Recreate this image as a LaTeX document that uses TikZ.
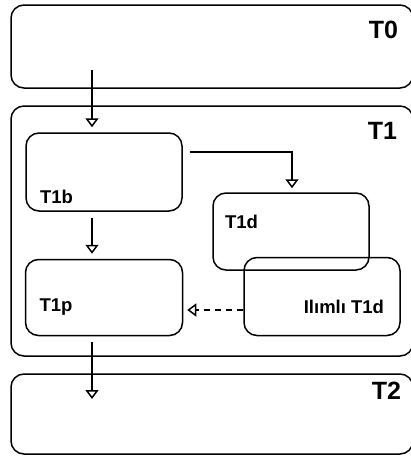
\documentclass[tikz,border=0pt]{standalone}
\usepackage{fontspec}
\setmainfont{Liberation Sans}
\usetikzlibrary{arrows.meta,positioning}

\begin{document}
\begin{tikzpicture}[x=1pt, y=-1pt, line width=1.5pt,
    hd/.style={-{Triangle[open,length=9pt,width=13pt]}},
    box/.style={draw, rounded corners=13pt, inner sep=0pt},
    big/.style={inner sep=0pt, font=\bfseries\fontsize{25}{25}\selectfont},
    small/.style={inner sep=0pt, font=\bfseries\fontsize{18.5}{18.5}\selectfont}]
    \useasboundingbox (0,0) rectangle (411,456);

    % Boxes {t0, t1, t2, t1b, t1d, t1p, ilimli}
    \node [box, minimum width=402pt, minimum height=83pt]  (t0)  at (212,46.5) {};
    \node [box, minimum width=402pt, minimum height=250pt] (t1)  at (212,231)  {};
    \node [box, minimum width=402pt, minimum height=80pt]  (t2)  at (212,414)  {};
    \node [box, minimum width=156pt, minimum height=78pt]  (t1b) at (104,172)  {};
    \node [box, minimum width=156pt, minimum height=77pt]  (t1d) at (291,231.5) {};
    \node [box, minimum width=157pt, minimum height=76pt]  (t1p) [below=47pt of t1b] {};
    \node [box, minimum width=156pt, minimum height=78pt]  (ilimli) [right=60pt of t1p, yshift=1pt] {};

    % Labels
    \node [big, anchor=base east]   (lt0)  at ([xshift=-15pt, yshift=-34pt]t0.north east) {T0};
    \node [big, anchor=base east]   (lt1)  at ([xshift=-16pt, yshift=-34pt]t1.north east) {T1};
    \node [big, anchor=base east]   (lt2)  at ([xshift=-12pt, yshift=-26pt]t2.north east) {T2};
    \node [small, anchor=base west] (lt1b) at ([xshift=14pt, yshift=8pt]t1b.south west) {T1b};
    \node [small, anchor=base west] (lt1d) at ([xshift=12pt, yshift=-36pt]t1d.north west) {T1d};
    \node [small, anchor=base west] (lt1p) at ([xshift=14pt, yshift=-14pt]t1p.west) {T1p};
    \node [small, anchor=base east] (lil)  at ([xshift=-16pt, yshift=-17pt]ilimli.east) {Ilımlı T1d};

    % Free ends
    \coordinate (a0) at (92,70);
    \coordinate (a1) at (92,218);
    \coordinate (a2) at (92,342);
    \coordinate (a3) at (190,152);
    \coordinate (a4) at (292,152);
    \coordinate (a5) at (92,399);

    % Paths
    \draw [hd, shorten >=5pt] (a0) -- (a0 |- t1b.north);
    \draw [hd, shorten >=5pt] (a1) -- (a1 |- t1p.north);
    \draw [hd] (a2) -- (a5);
    \draw [hd, shorten >=4pt] (a3) -- (a4) -- (a4 |- t1d.north);
    \draw [hd, dash pattern=on 6pt off 5pt, shorten >=4pt] (ilimli.west |- 0,310) -- (t1p.east |- 0,310);

\end{tikzpicture}
\end{document}
